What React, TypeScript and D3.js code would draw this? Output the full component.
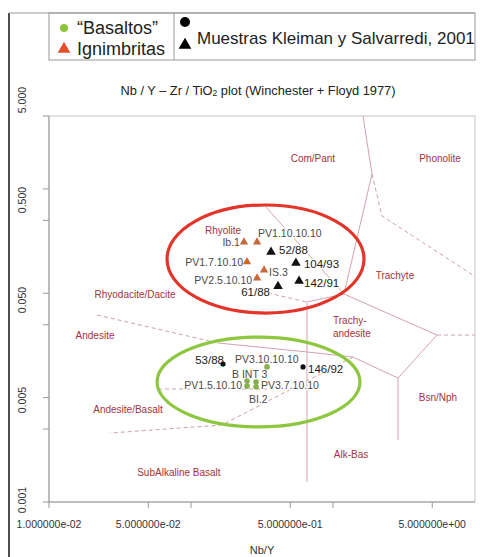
import React from "react";
import * as d3 from "d3";

// ---------- data ----------
const xTicks = [0.01, 0.05, 0.1, 0.5, 1, 5];
const xTickLabels = ["1.000000e-02", "5.000000e-02", "", "5.000000e-01", "", "5.000000e+00"];
const yTicks = [5, 1, 0.5, 0.1, 0.05, 0.01, 0.005, 0.001];
const yTickLabels = ["5.000", "0.500", "0.050", "0.005", "0.001"];

const basaltos = [
  { id: "PV3.10.10.10", nbY: 0.343, zrTi: 0.0197 },
  { id: "B INT 3", nbY: 0.248, zrTi: 0.0144 },
  { id: "PV1.5.10.10", nbY: 0.248, zrTi: 0.0129 },
  { id: "PV3.7.10.10", nbY: 0.287, zrTi: 0.0141 },
  { id: "BI.2", nbY: 0.287, zrTi: 0.0127 },
];
const ignimbritas = [
  { id: "Ib.1", nbY: 0.236, zrTi: 0.31 },
  { id: "PV1.10.10.10", nbY: 0.292, zrTi: 0.31 },
  { id: "PV1.7.10.10", nbY: 0.248, zrTi: 0.2 },
  { id: "IS.3", nbY: 0.327, zrTi: 0.167 },
  { id: "PV2.5.10.10", nbY: 0.292, zrTi: 0.14 },
];
const kleimanTri = [
  { id: "52/88", nbY: 0.366, zrTi: 0.249 },
  { id: "104/93", nbY: 0.548, zrTi: 0.195 },
  { id: "142/91", nbY: 0.577, zrTi: 0.131 },
  { id: "61/88", nbY: 0.41, zrTi: 0.117 },
];
const kleimanCirc = [
  { id: "53/88", nbY: 0.168, zrTi: 0.021 },
  { id: "146/92", nbY: 0.615, zrTi: 0.0197 },
];

// field boundaries [Nb/Y, Zr/TiO2]
const solidLines: [number, number][][] = [
  [[1.626, 5], [1.883, 1.39], [1.195, 0.0984], [0.656, 0.0826], [0.656, 0.00156]],
  [[0.337, 0.671], [1.195, 0.0984], [5.4, 0.0398], [2.87, 0.0154], [2.87, 0.00393]],
  [[2.87, 0.0154], [1.38, 0.0245], [0.656, 0.0274], [0.155, 0.0334]],
];
const dashedLines: [number, number][][] = [
  [[1.883, 1.39], [2.21, 0.551], [10, 0.145]],
  [[5.4, 0.0398], [10, 0.0398]],
  [[0.0218, 0.0619], [0.155, 0.0334]],
  [[0.348, 0.1007], [0.656, 0.0826]],
  [[1.38, 0.0245], [0.165, 0.00547], [0.0269, 0.00458]],
  [[0.0586, 0.0121], [0.506, 0.0121]],
];
const fieldNames = [
  { name: ["Com/Pant"], nbY: 0.722, zrTi: 1.94 },
  { name: ["Phonolite"], nbY: 5.67, zrTi: 1.94 },
  { name: ["Rhyolite"], nbY: 0.168, zrTi: 0.404 },
  { name: ["Trachyte"], nbY: 2.73, zrTi: 0.1465 },
  { name: ["Rhyodacite/Dacite"], nbY: 0.0404, zrTi: 0.0984 },
  { name: ["Trachy-", "andesite"], nbY: 1.0, zrTi: 0.0481 },
  { name: ["Andesite"], nbY: 0.0211, zrTi: 0.039 },
  { name: ["Bsn/Nph"], nbY: 5.49, zrTi: 0.00993 },
  { name: ["Andesite/Basalt"], nbY: 0.036, zrTi: 0.00762 },
  { name: ["Alk-Bas"], nbY: 1.34, zrTi: 0.00288 },
  { name: ["SubAlkaline Basalt"], nbY: 0.0822, zrTi: 0.0019 },
];
// ellipses as data bounds [xmin, xmax, ymin, ymax]
const redEllipse = [0.0678, 1.653, 0.0647, 0.702];
const greenEllipse = [0.0577, 1.549, 0.00524, 0.0381];

// label offsets (style)
const labelPos: Record<string, [number, number, string]> = {
  "Ib.1": [-4, 0, "end"],
  "PV1.10.10.10": [1, -9, "start"],
  "PV1.7.10.10": [-4, 0, "end"],
  "IS.3": [5, 2, "start"],
  "PV2.5.10.10": [-5, 2, "end"],
  "52/88": [8, -2, "start"],
  "104/93": [8, 1, "start"],
  "142/91": [5, 2, "start"],
  "61/88": [-8, 6, "end"],
  "53/88": [1, -4, "end"],
  "146/92": [5, 2, "start"],
  "PV3.10.10.10": [-32, -8, "start"],
  "B INT 3": [-15, -7, "start"],
  "PV1.5.10.10": [-5, -1, "end"],
  "PV3.7.10.10": [5, 3, "start"],
  "BI.2": [-7, 12, "start"],
};

const W = 480, H = 557;
const L = 49, R = 475, T = 116, B = 502;
const FONT = "'Liberation Sans', Arial, sans-serif";

export default function App() {
  const x = d3.scaleLog().domain([0.01, 10]).range([L, R]);
  const y = d3.scaleLog().domain([0.001, 5]).range([B, T]);
  const yLab = d3.scalePoint<string>().domain(yTickLabels).range([100, 500]);
  const line = d3.line<[number, number]>().x((d) => x(d[0])).y((d) => y(d[1]));
  const tri = d3.symbol().type(d3.symbolTriangle);

  const ell = (e: number[], color: string) => {
    const cx = (x(e[0]) + x(e[1])) / 2;
    const cy = (y(e[2]) + y(e[3])) / 2;
    return (
      <ellipse cx={cx} cy={cy} rx={(x(e[1]) - x(e[0])) / 2} ry={(y(e[2]) - y(e[3])) / 2}
        fill="none" stroke={color} strokeWidth={3.2} />
    );
  };

  const label = (d: { id: string; nbY: number; zrTi: number }, color: string, size: number) => {
    const p = labelPos[d.id];
    return (
      <text key={"l" + d.id} x={x(d.nbY) + p[0]} y={y(d.zrTi) + p[1]} textAnchor={p[2] as any}
        dominantBaseline="central" fontSize={size} fill={color}
        stroke="#fff" strokeWidth={2.5} paintOrder="stroke" strokeLinejoin="round">
        {d.id}
      </text>
    );
  };

  return (
    <svg width={W} height={H} style={{ position: "absolute", left: 0, top: 0, background: "#fff" }}
      fontFamily={FONT}>
      <rect width={W} height={H} fill="#fff" />
      {/* outer frame */}
      <line x1={9} y1={13} x2={9} y2={H} stroke="#111" strokeWidth={1.5} />
      <line x1={9} y1={13} x2={R} y2={13} stroke="#999" strokeWidth={1} />
      {/* legend */}
      <rect x={L} y={13} width={R - L} height={47} fill="none" stroke="#999" strokeWidth={1} />
      <line x1={174} y1={13} x2={174} y2={60} stroke="#999" strokeWidth={1} />
      <circle cx={64} cy={28} r={4} fill="#8cc63f" />
      <text x={77} y={28} fontSize={18} dominantBaseline="central" fill="#222">“Basaltos”</text>
      <path d={d3.symbol().type(d3.symbolTriangle).size(70)()!} transform="translate(64,49)" fill="#e1522b" />
      <text x={77} y={49} fontSize={18} dominantBaseline="central" fill="#222">Ignimbritas</text>
      <circle cx={185} cy={22} r={5} fill="#000" />
      <path d={d3.symbol().type(d3.symbolTriangle).size(70)()!} transform="translate(185,45)" fill="#000" />
      <text x={197} y={38} fontSize={17} dominantBaseline="central" fill="#222">Muestras Kleiman y Salvarredi, 2001</text>

      {/* title */}
      <text x={258} y={90} fontSize={12.8} textAnchor="middle" dominantBaseline="central" fill="#222">
        Nb / Y  –  Zr / TiO<tspan fontSize={8.5} dy={3}>2</tspan><tspan dy={-3}> plot  (Winchester  +  Floyd  1977)</tspan>
      </text>

      {/* plot box */}
      <rect x={L} y={T} width={R - L} height={B - T} fill="none" stroke="#c4c4c4" strokeWidth={1} />
      <line x1={L} y1={B} x2={R} y2={B} stroke="#999" />
      <line x1={L} y1={T} x2={L} y2={B} stroke="#999" />
      {xTicks.map((t, i) => (
        <g key={"xt" + i}>
          <line x1={x(t)} x2={x(t)} y1={B} y2={B + 6} stroke="#999" />
          {xTickLabels[i] && (
            <text x={x(t)} y={524} fontSize={10.5} textAnchor="middle" dominantBaseline="central" fill="#333">
              {xTickLabels[i]}
            </text>
          )}
        </g>
      ))}
      {yTicks.map((t, i) => (
        <line key={"yt" + i} x1={L - 6} x2={L} y1={y(t)} y2={y(t)} stroke="#999" />
      ))}
      {yTickLabels.map((s) => (
        <text key={"yl" + s} x={22} y={yLab(s)} fontSize={10.5} textAnchor="middle" dominantBaseline="central"
          fill="#333" transform={`rotate(-90, 22, ${yLab(s)})`}>
          {s}
        </text>
      ))}
      <text x={(L + R) / 2} y={550} fontSize={11} textAnchor="middle" dominantBaseline="central" fill="#333">Nb/Y</text>

      {/* field boundaries */}
      {solidLines.map((l, i) => (
        <path key={"s" + i} d={line(l)!} fill="none" stroke="#d2a4ad" strokeWidth={1} />
      ))}
      {dashedLines.map((l, i) => (
        <path key={"d" + i} d={line(l)!} fill="none" stroke="#c9a3a6" strokeWidth={1} strokeDasharray="4,3" />
      ))}
      {fieldNames.map((f, i) => (
        <text key={"f" + i} x={x(f.nbY)} y={y(f.zrTi)} fontSize={10} fill="#a3333d"
          textAnchor={f.name.length > 1 ? "start" : "middle"} dominantBaseline="central">
          {f.name.length > 1
            ? f.name.map((n, j) => (
                <tspan key={j} x={x(f.nbY)} dy={j === 0 ? -6.5 : 13}>{n}</tspan>
              ))
            : f.name[0]}
        </text>
      ))}

      {/* ellipses */}
      {ell(redEllipse, "#e3342a")}
      {ell(greenEllipse, "#8dc63f")}

      {/* labels */}
      {ignimbritas.map((d) => label(d, "#4a4a4a", 10.5))}
      {kleimanTri.map((d) => label(d, "#1a1a1a", 11.5))}
      {kleimanCirc.map((d) => label(d, "#1a1a1a", 11.5))}
      {basaltos.map((d) => label(d, "#4a4a4a", 10.5))}

      {/* markers */}
      {ignimbritas.map((d) => (
        <path key={"m" + d.id} d={tri.size(30)()!} transform={`translate(${x(d.nbY)},${y(d.zrTi)})`} fill="#c5693a" />
      ))}
      {kleimanTri.map((d) => (
        <path key={"m" + d.id} d={tri.size(40)()!} transform={`translate(${x(d.nbY)},${y(d.zrTi)})`} fill="#111" />
      ))}
      {kleimanCirc.map((d) => (
        <circle key={"m" + d.id} cx={x(d.nbY)} cy={y(d.zrTi)} r={2.6} fill="#111" />
      ))}
      {basaltos.map((d) => (
        <circle key={"m" + d.id} cx={x(d.nbY)} cy={y(d.zrTi)} r={2.8} fill="#86b04a" />
      ))}
    </svg>
  );
}
